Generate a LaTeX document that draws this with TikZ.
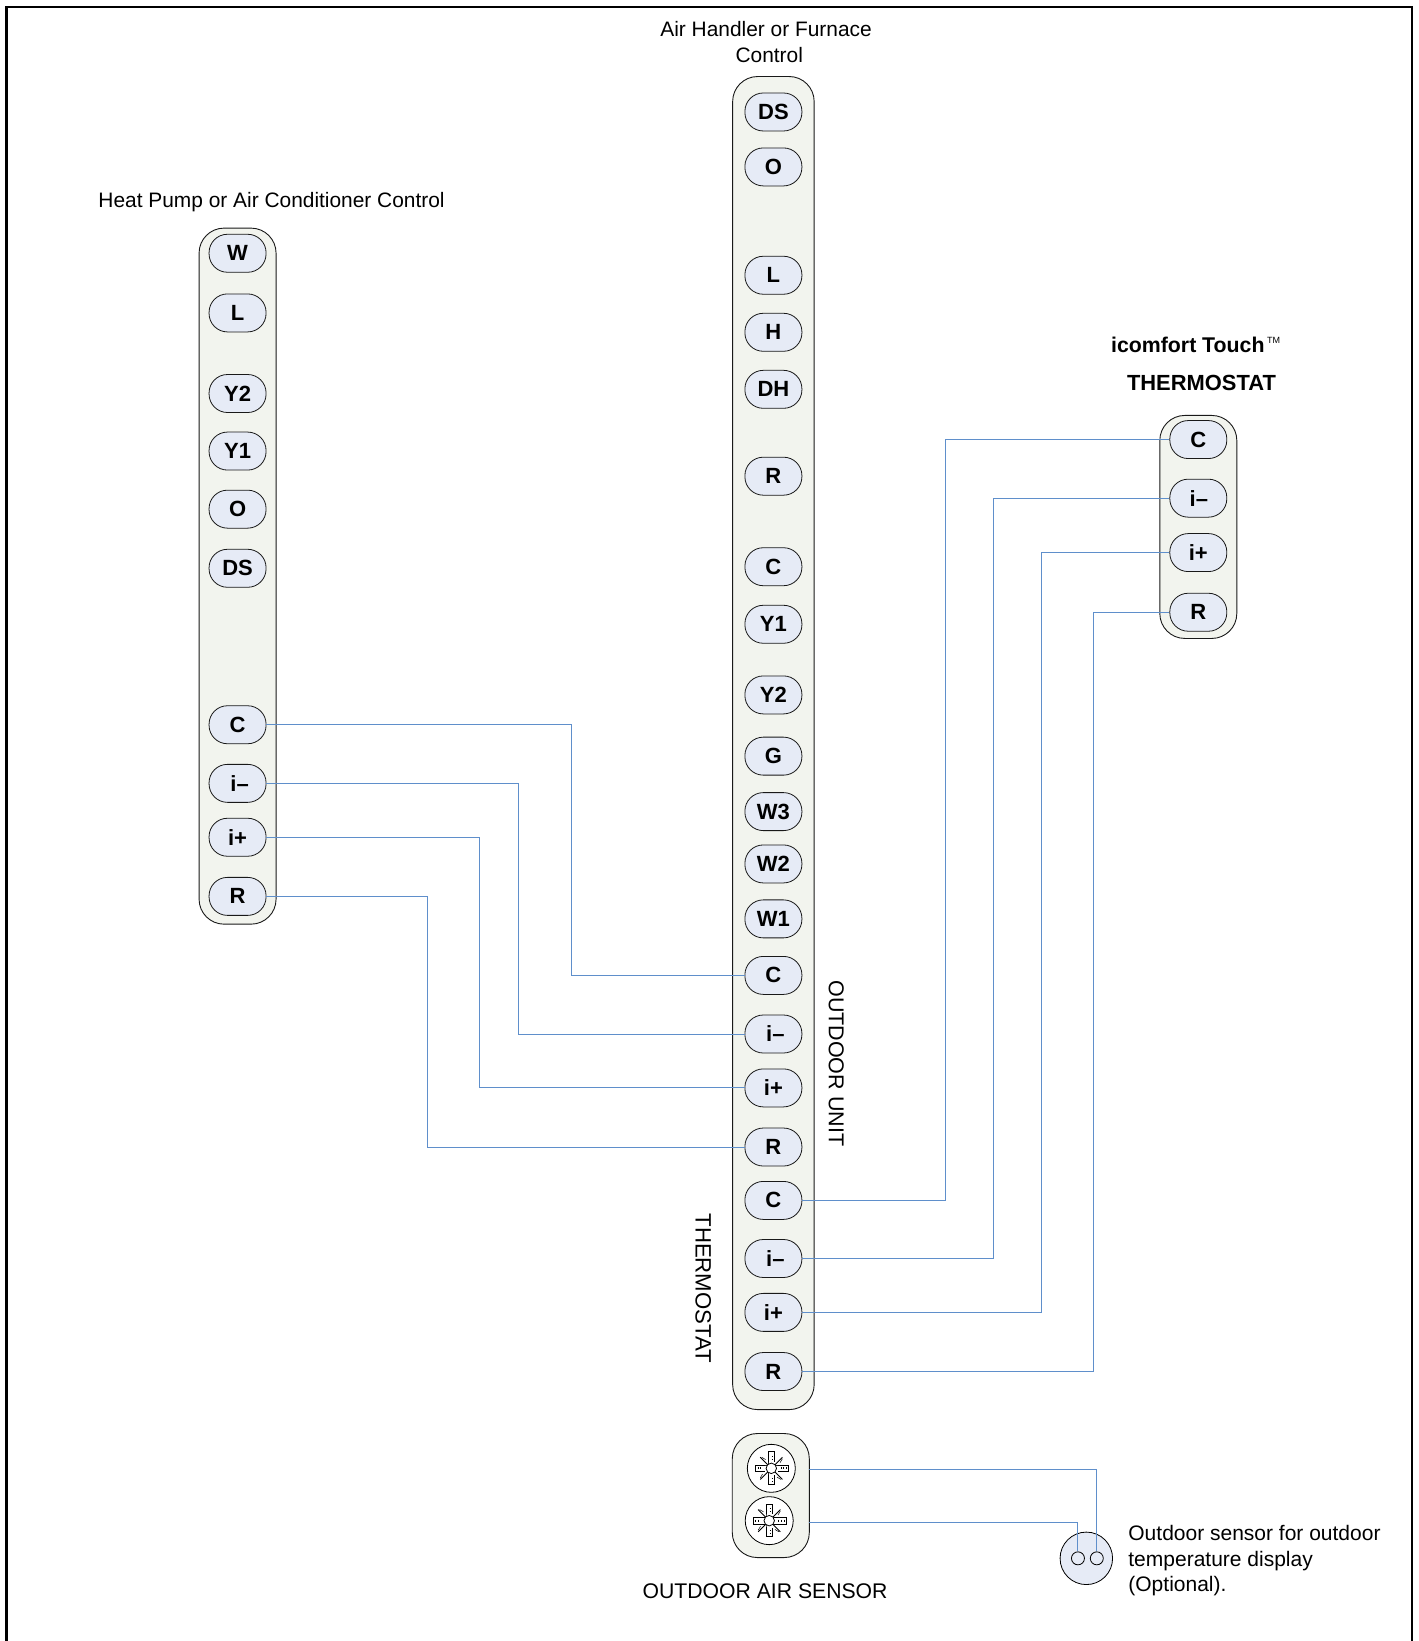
\documentclass[tikz,border=0pt]{standalone}
\usepackage{fontspec}
\setmainfont{Liberation Sans}
\definecolor{wire}{HTML}{5F8FCB}
\definecolor{pillfill}{HTML}{E6EBF6}
\definecolor{barfill}{HTML}{F2F4EE}
\newcommand{\screw}[3]{%
 \node[screwdisc] (#1) at (#2,#3) {};
 \begin{scope}[shift={(#2,#3)},line width=0.6pt]
  \foreach \a in {45,135,225,315}{
   \draw[line width=0.9pt] (\a:4) -- (\a:15);
   \draw[line width=0.5pt] (\a+12:10) -- (\a+4:14);}
  \draw[fill=white] (-3.2,-16) rectangle (3,15);
  \draw[fill=white] (-15,-3.2) rectangle (16,3.2);
  \draw[line width=0.4pt] (9,-1) -- (9,1) (11.5,-1) -- (11.5,1) (14,-1) -- (14,1)
   (-13,-1) -- (-13,1) (-10.5,-1) -- (-10.5,1)
   (0.5,-12) -- (2,-12) (0.5,-9) -- (2,-9) (0.5,9) -- (2,9) (0.5,12) -- (2,12);
  \draw[fill=white,draw=white,line width=0.3pt] (-6,-2.4) rectangle (6,2.4) (-2.4,-6) rectangle (2.4,6);
  \draw[fill=white,line width=0.8pt] (0,0) circle (5);
 \end{scope}}
\begin{document}
\begin{tikzpicture}[x=1.0465pt,y=-1.0465pt,
 bar/.style={draw=black!90,fill=barfill,rounded corners=25pt,line width=0.9pt,inner sep=0pt},
 pill/.style={draw=black!90,fill=pillfill,rounded corners=18.4pt,minimum width=57pt,minimum height=38pt,inner sep=0pt,line width=0.8pt,font=\fontsize{22}{22}\selectfont\bfseries},
 wirel/.style={draw=wire,line width=1pt},
 lab/.style={font=\fontsize{20.9}{26}\selectfont,align=center,inner sep=0pt},
 blab/.style={font=\fontsize{21.3}{26}\selectfont\bfseries,align=center,inner sep=0pt},
 screwdisc/.style={circle,draw=black,fill=white,minimum size=48pt,inner sep=0pt,line width=0.8pt}]
\path[use as bounding box] (0,0) rectangle (1355,1568);
\draw[line width=2.6pt,black] (6,1568) -- (6,6.5) -- (1349,6.5) -- (1349,1568);
% containers
\node[bar,minimum width=77pt,minimum height=696pt] (barL) at (227,550.5) {};
\node[bar,minimum width=81.5pt,minimum height=1333pt] (barC) at (739,710) {};
\node[bar,minimum width=77pt,minimum height=223pt] (barR) at (1145,503.5) {};
\node[bar,minimum width=77pt,minimum height=124pt] (barS) at (736.5,1429) {};
% left pills
\foreach \n/\t/\y in {lW/W/242,lL/L/299,lYb/Y2/376,lYa/Y1/431,lO/O/486.5,lDS/DS/543,lC/C/692.5,lM/\hspace{4pt}i–/748.5,lP/i+/800,lR/R/856.5}
 \node[pill] (\n) at (227,\y) {\t};
% centre pills
\foreach \n/\t/\y in {cDS/DS/107,cO/O/159.5,cL/L/263,cH/H/317.5,cDH/DH/372,cRa/R/455,cCa/C/541.5,cYa/Y1/596.5,cYb/Y2/664,cG/G/722.5,cWc/W3/775.5,cWb/W2/825.5,cWa/W1/878,cC/C/932,cM/\hspace{4pt}i–/988,cP/i+/1039.5,cR/R/1096,tC/C/1147,tM/\hspace{4pt}i–/1202.5,tP/i+/1254,tR/R/1310.5}
 \node[pill] (\n) at (739,\y) {\t};
% right pills
\foreach \n/\t/\y in {rC/C/420,rM/\hspace{1pt}i–/476,rP/i+/528,rR/R/585}
 \node[pill] (\n) at (1145,\y) {\t};
% wires left-centre
\draw[wirel] (lC.east) -- (546,692.5) |- (cC.west);
\draw[wirel] (lM.east) -- (495,748.5) |- (cM.west);
\draw[wirel] (lP.east) -- (458,800) |- (cP.west);
\draw[wirel] (lR.east) -- (408,856.5) |- (cR.west);
% wires centre-right
\draw[wirel] (tC.east) -- (903,1147) |- (rC.west);
\draw[wirel] (tM.east) -- (949,1202.5) |- (rM.west);
\draw[wirel] (tP.east) -- (995,1254) |- (rP.west);
\draw[wirel] (tR.east) -- (1045,1310.5) |- (rR.west);
% screws
\screw{sa}{737}{1403}
\screw{sb}{735}{1453}
% sensor
\node[circle,draw=black,fill=pillfill,minimum size=52.5pt,inner sep=0pt,line width=0.8pt] (sens) at (1038,1489) {};
\node[circle,draw=black,fill=pillfill,minimum size=13pt,inner sep=0pt,line width=0.8pt] (sl) at (1030,1489) {};
\node[circle,draw=black,fill=pillfill,minimum size=13pt,inner sep=0pt,line width=0.8pt] (sr) at (1048,1489) {};
\coordinate (wa) at (773,1404);
\coordinate (wb) at (773,1455);
\draw[wirel] (wa) -| (sr.north);
\draw[wirel] (wb) -| (sl.north);
% labels
\node[lab] (t1a) at (732,28) {Air Handler or Furnace};
\node[lab] (t1b) at (735,52.5) {Control};
\node[lab] (t2) at (259.5,193.5) {Heat Pump or Air Conditioner Control};
\node[blab] (t3) at (1135,330) {icomfort Touch};
\node[lab,font=\fontsize{9}{9}\selectfont] (t4) at (1217,325.5) {TM};
\node[blab,font=\fontsize{21.9}{26}\selectfont\bfseries] (t5) at (1148,366) {THERMOSTAT};
\node[lab,rotate=-90,font=\fontsize{21.5}{26}\selectfont] (t6) at (799,1016) {OUTDOOR UNIT};
\node[lab,rotate=-90,font=\fontsize{22.2}{26}\selectfont] (t7) at (672,1231) {THERMOSTAT};
\node[lab,font=\fontsize{21.2}{26}\selectfont] (t8) at (731,1520) {OUTDOOR AIR SENSOR};
\node[lab,align=left,anchor=north west,font=\fontsize{21}{25.8}\selectfont] (t9) at (1078,1457) {Outdoor sensor for outdoor\\temperature display\\(Optional).};
\end{tikzpicture}
\end{document}
